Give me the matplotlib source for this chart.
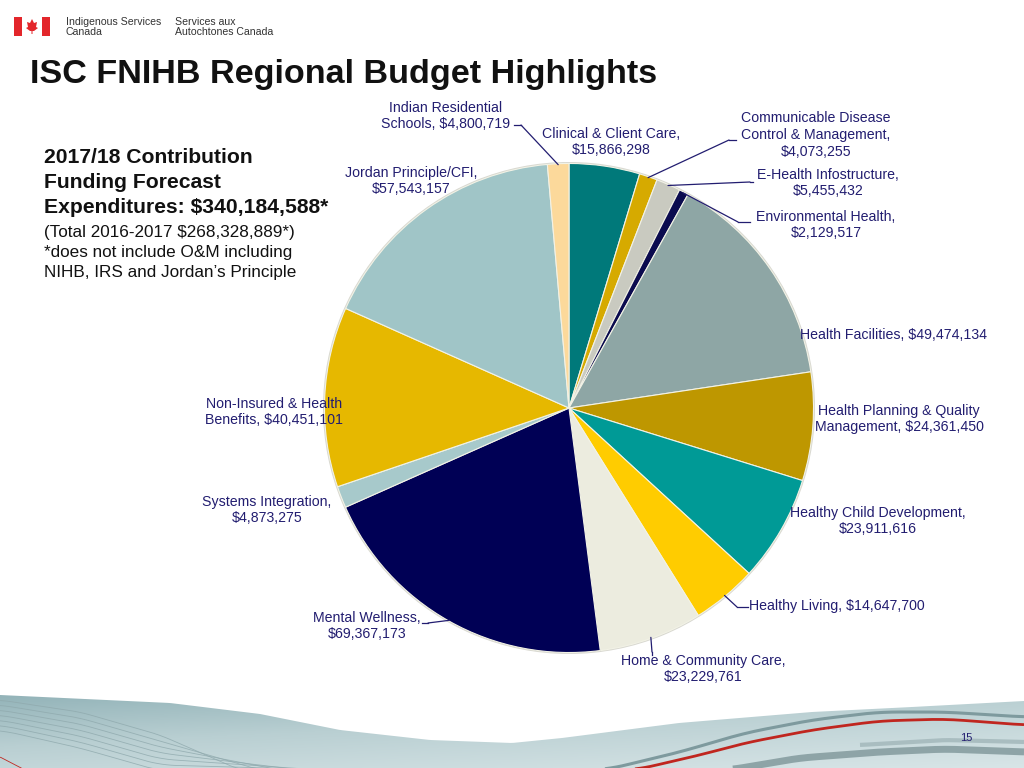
import numpy as np
import matplotlib
matplotlib.use("Agg")
import matplotlib.pyplot as plt
from matplotlib.patches import Rectangle, Polygon
from matplotlib.colors import LinearSegmentedColormap

plt.rcParams['font.family'] = ['Liberation Sans', 'DejaVu Sans']

# ---------------- data ----------------
categories = [
    "Clinical & Client Care", "Communicable Disease Control & Management",
    "E-Health Infostructure", "Environmental Health", "Health Facilities",
    "Health Planning & Quality Management", "Healthy Child Development",
    "Healthy Living", "Home & Community Care", "Mental Wellness",
    "Systems Integration", "Non-Insured & Health Benefits",
    "Jordan Principle/CFI", "Indian Residential Schools",
]
values = [15866298, 4073255, 5455432, 2129517, 49474134, 24361450, 23911616,
          14647700, 23229761, 69367173, 4873275, 40451101, 57543157, 4800719]
colors = ["#00797A", "#D6AA00", "#C9CAC0", "#0B0B4F", "#8EA6A5", "#BE9700",
          "#009A96", "#FFCC00", "#ECECDF", "#000055", "#A7C9CB", "#E6B800",
          "#A0C5C7", "#FCD99B"]
label_texts = [
    "Clinical & Client Care,\n$15,866,298",
    "Communicable Disease\nControl & Management,\n$4,073,255",
    "E-Health Infostructure,\n$5,455,432",
    "Environmental Health,\n$2,129,517",
    "Health Facilities, $49,474,134",
    "Health Planning & Quality\nManagement, $24,361,450",
    "Healthy Child Development,\n$23,911,616",
    "Healthy Living, $14,647,700",
    "Home & Community Care,\n$23,229,761",
    "Mental Wellness,\n$69,367,173",
    "Systems Integration,\n$4,873,275",
    "Non-Insured & Health\nBenefits, $40,451,101",
    "Jordan Principle/CFI,\n$57,543,157",
    "Indian Residential\nSchools, $4,800,719",
]
headline_lines = ["2017/18 Contribution", "Funding Forecast",
                  "Expenditures: $340,184,588*"]
note_lines = ["(Total 2016-2017 $268,328,889*)",
              "*does not include O&M including",
              "NIHB, IRS and Jordan\u2019s Principle"]

W, H = 1024, 768
fig = plt.figure(figsize=(W / 100, H / 100), dpi=100)
fig.patch.set_facecolor("white")

# pie axes
cx, cy, R = 569, 408, 246
pax = fig.add_axes([(cx - R) / W, (H - cy - R) / H, 2 * R / W, 2 * R / H])
pax.set_zorder(1)
# soft shadow ring
pax.pie([1], colors=["#D8D8D0"], radius=1.0, startangle=90,
        wedgeprops=dict(linewidth=0))
wedges, _ = pax.pie(values, colors=colors, startangle=90, counterclock=False,
                    radius=0.994,
                    wedgeprops=dict(edgecolor="#F2F2E6", linewidth=0.8))
pax.set_xlim(-1.0, 1.0)
pax.set_ylim(-1.0, 1.0)
pax.set_aspect("equal")
pax.axis("off")

# overlay axes in pixel coordinates
ov = fig.add_axes([0, 0, 1, 1])
ov.set_zorder(2)
ov.patch.set_alpha(0)
ov.axis("off")

navy = "#221D70"

# ---------------- header ----------------
ov.add_patch(Rectangle((14, 17), 8, 19, color="#E3262B", lw=0))
ov.add_patch(Rectangle((42, 17), 8, 19, color="#E3262B", lw=0))
leaf = [(32, 19), (34, 23), (37, 22), (36, 27), (38, 28), (34, 31), (32.5, 31),
        (32.5, 34), (31.5, 34), (31.5, 31), (30, 31), (26, 28), (28, 27),
        (27, 22), (30, 23)]
ov.add_patch(Polygon(leaf, closed=True, color="#E3262B", lw=0))
ov.text(66, 27, "Indigenous Services\nCanada", fontsize=7.6, color="#333333",
        va="center", ha="left", linespacing=1.05)
ov.text(175, 27, "Services aux\nAutochtones Canada", fontsize=7.6,
        color="#333333", va="center", ha="left", linespacing=1.05)

# ---------------- title ----------------
ov.text(30, 75, "ISC FNIHB Regional Budget Highlights", fontsize=24.6,
        fontweight="bold", color="#111111", va="center", ha="left")

# ---------------- left text ----------------
for line, yb in zip(headline_lines, [163, 188, 213]):
    ov.text(44, yb, line, fontsize=15.2, fontweight="bold", color="#111111",
            va="baseline", ha="left")
for line, yb in zip(note_lines, [237, 257, 277]):
    ov.text(44, yb, line, fontsize=12.3, color="#111111", va="baseline",
            ha="left")

# ---------------- labels ----------------
label_pos = [
    (611, 142, "center"), (816, 135, "center"), (828, 183, "center"),
    (826, 225, "center"), (800, 335, "left"), (899, 419, "center"),
    (878, 521, "center"), (749, 606, "left"), (703, 669, "center"),
    (367, 626, "center"), (267, 510, "center"), (274, 412, "center"),
    (411, 181, "center"), (446, 116, "center"),
]
for txt, (x, y, ha) in zip(label_texts, label_pos):
    ov.text(x, y, txt, fontsize=10.2, color=navy, ha=ha, va="center",
            multialignment="center", linespacing=1.26)

# ---------------- leader lines ----------------
leaders = [
    (13, (514, 125), (521, 125)),
    (1, (736, 140), (729, 140)),
    (2, (753, 182), (750, 182)),
    (3, (750, 222), (738, 222)),
    (7, (748, 607), (737, 607)),
    (8, (652, 655), (652, 652)),
    (9, (422, 623), (428, 623)),
]
for idx, lab, elb in leaders:
    w = wedges[idx]
    mid = np.deg2rad((w.theta1 + w.theta2) / 2)
    px, py = np.cos(mid) * 0.99, np.sin(mid) * 0.99
    ov.plot([lab[0], elb[0]], [lab[1], elb[1]], color=navy, lw=0.9)
    ov.annotate("", xy=(px, py), xycoords=pax.transData, xytext=elb,
                textcoords="data",
                arrowprops=dict(arrowstyle="-", color=navy, lw=0.9,
                                shrinkA=0, shrinkB=0))

# ---------------- footer ----------------
xs = np.linspace(0, W, 300)
top_pts = np.array([[0, 695], [170, 703], [260, 714], [340, 730], [430, 740],
                    [512, 743], [562, 738], [679, 723], [812, 712],
                    [912, 707], [1024, 701]])
top = np.interp(xs, top_pts[:, 0], top_pts[:, 1])
verts = list(zip(xs, top)) + [(W, H), (0, H)]
foot = Polygon(verts, closed=True, facecolor="none", edgecolor="none")
ov.add_patch(foot)
gx, gy = np.meshgrid(np.linspace(0, 1, 200), np.linspace(0, 1, 40))
field = 0.55 * gy + 0.35 * gx + 0.1
cmap = LinearSegmentedColormap.from_list("g", ["#86AAB0", "#B9CFD2", "#D8E5E7"])
img = ov.imshow(field, extent=(0, W, H, 690), aspect="auto", cmap=cmap,
                vmin=0, vmax=1, zorder=0.5)
img.set_clip_path(foot)

def curve(pts, col, lw, z=0.6, alpha=1.0):
    pts = np.array(pts, dtype=float)
    xx = np.linspace(pts[0, 0], pts[-1, 0], 150)
    yy = np.interp(xx, pts[:, 0], pts[:, 1])
    k = np.ones(15) / 15
    yp = np.pad(yy, 7, mode="edge")
    yy = np.convolve(yp, k, mode="valid")
    ov.plot(xx, yy, color=col, lw=lw, solid_capstyle="butt", zorder=z,
            alpha=alpha)

curve([(729, 770), (800, 758), (879, 752), (945, 749), (1024, 752)],
      "#8EA4A7", 5.0)
curve([(860, 745), (945, 740), (1024, 742)], "#A9BDC0", 3.0)
curve([(605, 770), (680, 752), (745, 733), (812, 720), (879, 712),
       (945, 712), (1024, 717)], "#7E9A9E", 2.2)
curve([(635, 770), (700, 755), (745, 743), (812, 730), (879, 721),
       (945, 719), (1024, 725)], "#C0261F", 2.0)
for k in range(7):
    pts = [(0, 700 + k * 5), (80, 712 + k * 6), (160, 735 + k * 6),
           (240 + k * 20, 770)]
    curve(pts, "#8FA9AD", 0.6, alpha=0.8)
curve([(0, 757), (25, 770)], "#C0261F", 0.6)
ov.text(966, 738, "15", fontsize=8, color=navy, ha="center", va="center")

ov.set_xlim(0, W)
ov.set_ylim(H, 0)

fig.savefig("out.png", dpi=100)
